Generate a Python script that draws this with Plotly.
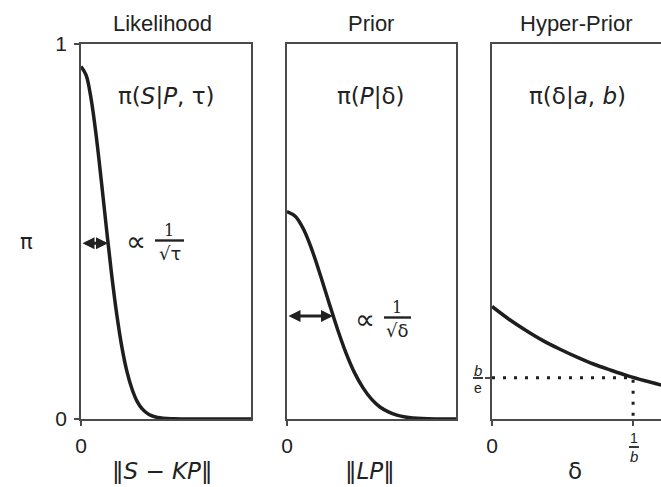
import plotly.graph_objects as go

# ---- data ----
panel_titles = ["Likelihood", "Prior", "Hyper-Prior"]
panel_formulas = ["π(<i>S</i>|<i>P</i>, τ)", "π(<i>P</i>|δ)", "π(δ|<i>a</i>, <i>b</i>)"]
x_labels = ["‖<i>S</i> − <i>KP</i>‖", "‖<i>LP</i>‖", "δ"]

like_x = [0, 0.03, 0.06, 0.09, 0.12, 0.15, 0.18, 0.21, 0.24, 0.27, 0.30, 0.33, 0.36, 0.40, 0.45, 0.55, 0.70, 1.0]
like_y = [0.94, 0.917, 0.852, 0.753, 0.633, 0.507, 0.386, 0.280, 0.193, 0.127, 0.080, 0.047, 0.027, 0.012, 0.004, 0.0005, 0.0, 0.0]

prior_x = [0, 0.05, 0.10, 0.15, 0.20, 0.25, 0.30, 0.35, 0.40, 0.45, 0.50, 0.55, 0.60, 0.65, 0.70, 0.80, 1.0]
prior_y = [0.553, 0.540, 0.504, 0.448, 0.380, 0.308, 0.238, 0.175, 0.123, 0.083, 0.053, 0.032, 0.019, 0.0105, 0.0056, 0.0014, 0.0]

hyper_x = [0, 0.1, 0.2, 0.3, 0.4, 0.5, 0.6, 0.7, 0.8, 0.9, 1.0]
hyper_y = [0.300, 0.266, 0.236, 0.209, 0.186, 0.165, 0.146, 0.130, 0.115, 0.102, 0.090]

inv_b = 0.83      # 1/b on the delta axis
b_over_e = 0.11   # b/e on the pi axis
like_halfwidth = [0.159, 0.469]   # arrow end x, arrow height
prior_halfwidth = [0.272, 0.275]

W, H = 661, 487
AX = "#4a4a4a"
CURVE = "#1e1e1e"
FONT = "Liberation Sans, Arial, sans-serif"
MATH = "DejaVu Sans, Liberation Sans, sans-serif"


def px(x):
    return x / W


def py(y):
    return 1 - y / H


fig = go.Figure()
fig.add_trace(go.Scatter(x=like_x, y=like_y, mode="lines", line=dict(color=CURVE, width=3.5, shape="spline"),
                         xaxis="x", yaxis="y", showlegend=False, cliponaxis=False))
fig.add_trace(go.Scatter(x=prior_x, y=prior_y, mode="lines", line=dict(color=CURVE, width=3.5, shape="spline"),
                         xaxis="x2", yaxis="y2", showlegend=False))
fig.add_trace(go.Scatter(x=hyper_x, y=hyper_y, mode="lines", line=dict(color=CURVE, width=3.5, shape="spline"),
                         xaxis="x3", yaxis="y3", showlegend=False))
fig.add_trace(go.Scatter(x=[0, inv_b, inv_b], y=[b_over_e, b_over_e, 0], mode="lines",
                         line=dict(color=CURVE, width=3, dash="3px,8px"),
                         xaxis="x3", yaxis="y3", showlegend=False))

ydom = [py(419), py(44)]
xdoms = [[px(81), px(251)], [px(287), px(456)], [px(492), 1.0]]

TICKFONT = dict(family=FONT, size=21, color="#222")
common_x = dict(showline=True, linecolor=AX, linewidth=1.8, showgrid=False, zeroline=False,
                ticks="outside", ticklen=5, tickwidth=1.8, tickcolor=AX, automargin=False,
                tickfont=TICKFONT, ticklabelstandoff=2, fixedrange=True)
common_y = dict(showline=True, linecolor=AX, linewidth=1.8, showgrid=False, zeroline=False,
                range=[0, 1], fixedrange=True, automargin=False)

layout = dict(
    width=W, height=H, margin=dict(l=0, r=0, t=0, b=0, autoexpand=False),
    paper_bgcolor="white", plot_bgcolor="white",
    xaxis=dict(domain=xdoms[0], range=[0, 1], mirror=True, tickvals=[0], ticktext=["0"], anchor="y", **common_x),
    yaxis=dict(domain=ydom, anchor="x", mirror=True, ticks="outside", ticklen=5, tickwidth=1.8, tickcolor=AX,
               tickvals=[0, 1], ticktext=["0", "1"], tickfont=TICKFONT, ticklabelstandoff=3, **common_y),
    xaxis2=dict(domain=xdoms[1], range=[0, 1], mirror=True, tickvals=[0], ticktext=["0"], anchor="y2", **common_x),
    yaxis2=dict(domain=ydom, anchor="x2", mirror=True, showticklabels=False, **common_y),
    xaxis3=dict(domain=xdoms[2], range=[0, 169 / 170], mirror=True, tickvals=[0, inv_b], ticktext=["0", " "],
                anchor="y3", **common_x),
    yaxis3=dict(domain=ydom, anchor="x3", mirror=False, ticks="outside", ticklen=5, tickwidth=1.8, tickcolor=AX,
                tickvals=[b_over_e], ticktext=[" "], **common_y),
)
fig.update_layout(**layout)

ann = []
shapes = []


def text(x, y, s, size=17, family=FONT, color="#222"):
    ann.append(dict(x=px(x), y=py(y), xref="paper", yref="paper", text=s, showarrow=False,
                    font=dict(family=family, size=size, color=color), xanchor="center", yanchor="middle"))


def hline(x0, x1, y, width=1.6):
    shapes.append(dict(type="line", xref="paper", yref="paper", x0=px(x0), x1=px(x1), y0=py(y), y1=py(y),
                       line=dict(color="#222", width=width)))


# titles
for cx, t in zip([162, 371, 576], panel_titles):
    text(cx, 24, t, size=22)
# formulas
for cx, t in zip([166, 371, 577], panel_formulas):
    text(cx, 96, t, size=23, family=MATH)
# x axis labels
for cx, t in zip([162, 370, 575], x_labels):
    text(cx, 471, t, size=23, family=MATH)
# y axis label
text(26, 242, "π", size=21, family=MATH)

# double-headed arrows
for xa, ya, axis in [(like_halfwidth[0], like_halfwidth[1], ""), (prior_halfwidth[0], prior_halfwidth[1], "2")]:
    ann.append(dict(x=xa, y=ya, ax=0, ay=ya, xref="x" + axis, yref="y" + axis, axref="x" + axis,
                    ayref="y" + axis, text="", showarrow=True, arrowhead=2, arrowside="end+start",
                    arrowwidth=3, arrowsize=0.8, arrowcolor="#222", standoff=0, startstandoff=0))

# proportional-to labels
text(136, 242, "∝", size=28, family=MATH)
text(169, 230, "1", size=16, family="DejaVu Serif, serif")
hline(155, 184, 240.5, 2.4)
text(170, 253, "√τ", size=18, family=MATH)

text(365, 319, "∝", size=28, family=MATH)
text(397, 307, "1", size=16, family="DejaVu Serif, serif")
hline(384, 411, 317.5, 2.4)
text(397, 330, "√δ", size=18, family=MATH)

# b/e on y axis of panel 3
text(478, 370, "<i>b</i>", size=15)
hline(473, 483, 378, 1.8)
text(478, 388, "e", size=14)
# 1/b on x axis of panel 3
text(634, 438, "1", size=14)
hline(629, 639, 447, 1.8)
text(634, 456, "<i>b</i>", size=15)

fig.update_layout(annotations=ann, shapes=shapes)
fig.write_html("out.html", config={"displayModeBar": False},
               post_script="document.body.style.margin='0';document.body.style.padding='0';")
